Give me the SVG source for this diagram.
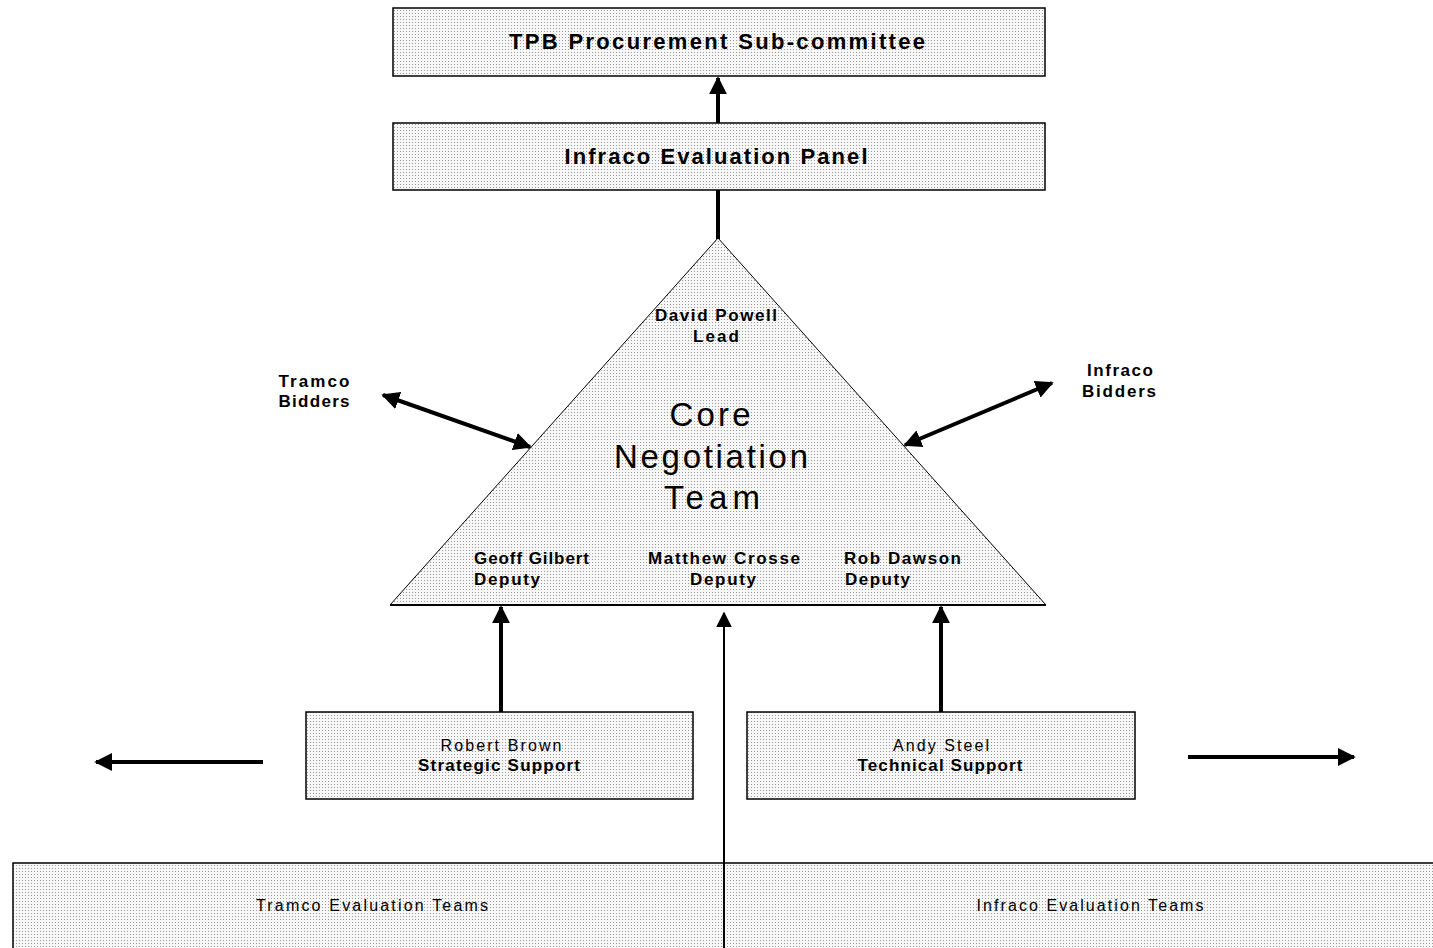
<svg xmlns="http://www.w3.org/2000/svg" width="1433" height="948" viewBox="0 0 1433 948">
<defs>
<pattern id="dots" width="3" height="3" patternUnits="userSpaceOnUse">
<rect width="3" height="3" fill="#f7f7f7"/>
<rect x="1" y="1" width="1" height="1" fill="#9a9a9a"/>
</pattern>
<marker id="ah" viewBox="0 0 10 10" refX="9" refY="5" markerWidth="4.5" markerHeight="4.5" orient="auto-start-reverse" markerUnits="strokeWidth">
<path d="M0,0 L10,5 L0,10 Z" fill="#000"/>
</marker>
<marker id="ah2" viewBox="0 0 10 10" refX="9" refY="5" markerWidth="8" markerHeight="8" orient="auto-start-reverse" markerUnits="strokeWidth">
<path d="M0,0 L10,5 L0,10 Z" fill="#000"/>
</marker>
</defs>
<style>
.box{fill:url(#dots);stroke:#000;stroke-width:1.5}
.t{font-family:"Liberation Sans",Arial,sans-serif;fill:#000;text-anchor:middle}
.s{text-anchor:start}
.b{font-weight:bold}
.thick{stroke:#000;stroke-width:4;fill:none}
.thin{stroke:#000;stroke-width:2;fill:none}
</style>
<rect width="1433" height="948" fill="#fff"/>

<g id="tpb">
<rect class="box" x="393" y="8" width="652" height="68"/>
<text class="t b" x="717" y="49" font-size="22" textLength="416" lengthAdjust="spacing">TPB Procurement Sub-committee</text>
</g>

<g id="panel">
<rect class="box" x="393" y="123" width="652" height="67"/>
<text class="t b" x="716" y="164" font-size="22" textLength="303" lengthAdjust="spacing">Infraco Evaluation Panel</text>
</g>

<g id="core">
<path d="M718,238 L390,605 L1046,605 Z" fill="url(#dots)" stroke="#000" stroke-width="1"/>
<line x1="390" y1="605" x2="1046" y2="605" stroke="#000" stroke-width="2"/>
<text class="t b" x="716" y="321" font-size="17" textLength="122" lengthAdjust="spacing">David Powell</text>
<text class="t b" x="716" y="342" font-size="17" textLength="46" lengthAdjust="spacing">Lead</text>
<text class="t" x="710" y="426" font-size="33" textLength="81" lengthAdjust="spacing">Core</text>
<text class="t" x="711" y="468" font-size="33" textLength="194" lengthAdjust="spacing">Negotiation</text>
<text class="t" x="712" y="509" font-size="33" textLength="96" lengthAdjust="spacing">Team</text>
<text class="t b s" x="474" y="564" font-size="17" textLength="115" lengthAdjust="spacing">Geoff Gilbert</text>
<text class="t b s" x="474" y="585" font-size="17" textLength="66" lengthAdjust="spacing">Deputy</text>
<text class="t b" x="724" y="564" font-size="17" textLength="152" lengthAdjust="spacing">Matthew Crosse</text>
<text class="t b" x="723" y="585" font-size="17" textLength="66" lengthAdjust="spacing">Deputy</text>
<text class="t b s" x="844" y="564" font-size="17" textLength="117" lengthAdjust="spacing">Rob Dawson</text>
<text class="t b s" x="845" y="585" font-size="17" textLength="65" lengthAdjust="spacing">Deputy</text>
</g>

<g id="tramco-bidders">
<text class="t b" x="314" y="387" font-size="17" textLength="71" lengthAdjust="spacing">Tramco</text>
<text class="t b" x="314" y="407" font-size="17" textLength="71" lengthAdjust="spacing">Bidders</text>
</g>

<g id="infraco-bidders">
<text class="t b" x="1120" y="376" font-size="17" textLength="66" lengthAdjust="spacing">Infraco</text>
<text class="t b" x="1119" y="397" font-size="17" textLength="74" lengthAdjust="spacing">Bidders</text>
</g>

<g id="robert">
<rect class="box" x="306" y="712" width="387" height="87"/>
<text class="t" x="501" y="751" font-size="16" textLength="121" lengthAdjust="spacing">Robert Brown</text>
<text class="t b" x="499" y="771" font-size="17" textLength="162" lengthAdjust="spacing">Strategic Support</text>
</g>

<g id="andy">
<rect class="box" x="747" y="712" width="388" height="87"/>
<text class="t" x="941" y="751" font-size="16" textLength="96" lengthAdjust="spacing">Andy Steel</text>
<text class="t b" x="940" y="771" font-size="17" textLength="165" lengthAdjust="spacing">Technical Support</text>
</g>

<g id="eval-teams">
<rect class="box" x="13" y="863" width="1430" height="100"/>
<text class="t" x="372" y="911" font-size="16" textLength="232" lengthAdjust="spacing">Tramco Evaluation Teams</text>
<text class="t" x="1090" y="911" font-size="16" textLength="227" lengthAdjust="spacing">Infraco Evaluation Teams</text>
</g>

<g id="connectors">
<line class="thick" x1="718" y1="123" x2="718" y2="78" marker-end="url(#ah)"/>
<line class="thick" x1="718" y1="190" x2="718" y2="239"/>
<line class="thick" x1="383" y1="395" x2="530" y2="447" marker-start="url(#ah)" marker-end="url(#ah)"/>
<line class="thick" x1="905" y1="445" x2="1052" y2="383" marker-start="url(#ah)" marker-end="url(#ah)"/>
<line class="thick" x1="501" y1="712" x2="501" y2="607" marker-end="url(#ah)"/>
<line class="thick" x1="941" y1="712" x2="941" y2="607" marker-end="url(#ah)"/>
<line class="thin" x1="724" y1="948" x2="724" y2="613" marker-end="url(#ah2)"/>
<line class="thick" x1="263" y1="762" x2="96" y2="762" marker-end="url(#ah)"/>
<line class="thick" x1="1188" y1="757" x2="1354" y2="757" marker-end="url(#ah)"/>
</g>
</svg>
